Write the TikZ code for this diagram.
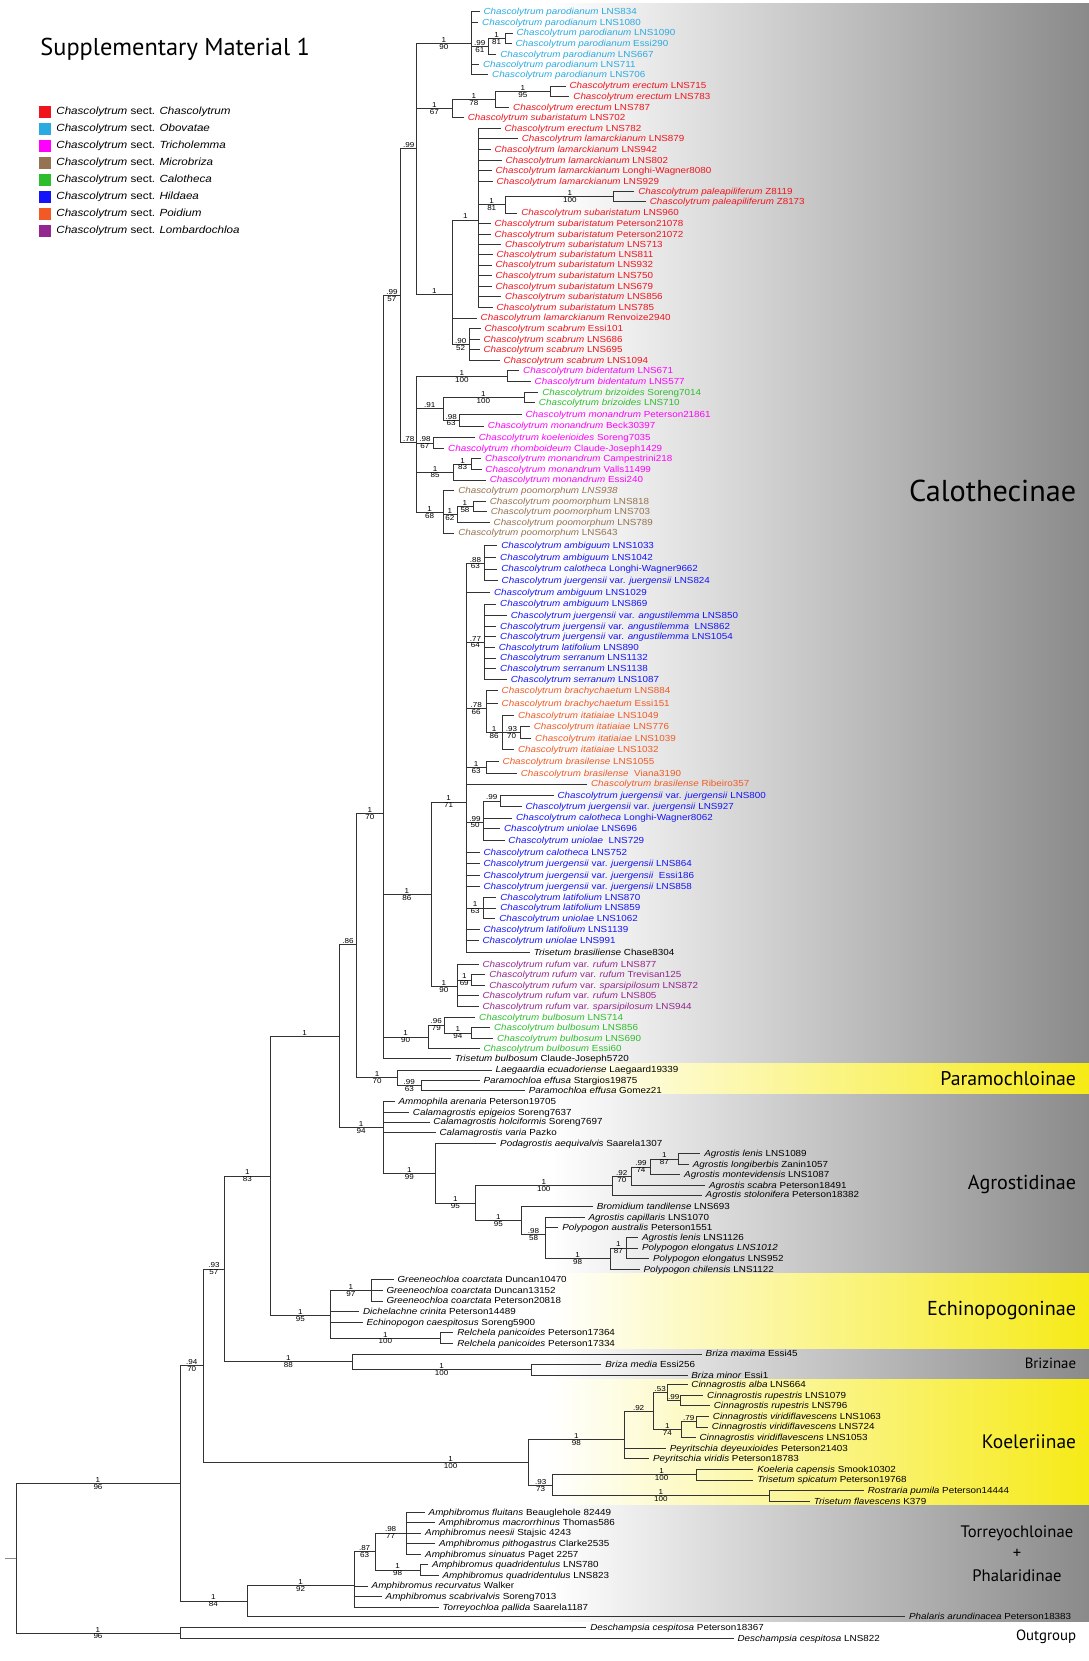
\documentclass[tikz,border=0pt]{standalone}
\usepackage{fontspec}
\setmainfont{Liberation Sans}
\newfontfamily\tipff[FakeStretch=1.12]{Liberation Sans}
\newfontfamily\bandff{PT Sans}
\definecolor{cCha}{RGB}{240,20,30}
\definecolor{cObo}{RGB}{41,171,226}
\definecolor{cTri}{RGB}{255,0,255}
\definecolor{cMic}{RGB}{150,115,80}
\definecolor{cCal}{RGB}{45,190,45}
\definecolor{cHil}{RGB}{20,20,250}
\definecolor{cPoi}{RGB}{241,90,36}
\definecolor{cLom}{RGB}{147,39,143}
\definecolor{bgray}{RGB}{138,138,138}
\definecolor{byel}{RGB}{246,234,22}
\newcommand\tipfont{\tipff\fontsize{8.3}{9}\selectfont}
\newcommand\supfont{\tipff\fontsize{6.8}{7.5}\selectfont}
\newcommand\ch[1]{\textit{Chascolytrum #1}}
\newcommand\tp[5]{\node[tip,text=#2] (#1) at (#3,#4) {#5};}
\begin{document}
\begin{tikzpicture}[x=1pt,y=-1pt,
  br/.style={draw=black!80,line width=0.55pt},
  tip/.style={anchor=west,inner xsep=3.5pt,inner ysep=0pt,xshift=-3.5pt,text height=6pt,text depth=0.2pt,font=\tipfont},
  sup/.style={font=\supfont,inner sep=0.6pt},
  ua/.style={pos=.75,above,sup},
  lb/.style={pos=.75,below,sup},
  leg/.style={anchor=west,inner sep=0pt,font=\tipff\fontsize{9.8}{11}\selectfont},
  sq/.style={minimum size=11.5pt,inner sep=0pt,draw=none}
]
\useasboundingbox (0,0) rectangle (1028,1568);
\fill[white] (0,0) rectangle (1028,1568);
% bands
\shade[left color=white,right color=bgray] (520,3.4) rectangle (1028,1004);
\shade[left color=white,right color=byel] (520,1004) rectangle (1028,1033.4);
\shade[left color=white,right color=bgray] (520,1033.4) rectangle (1028,1202);
\shade[left color=white,right color=byel] (520,1202) rectangle (1028,1274);
\shade[left color=white,right color=bgray] (520,1274) rectangle (1028,1302);
\shade[left color=white,right color=byel] (520,1302) rectangle (1028,1421);
\shade[left color=white,right color=bgray] (520,1421) rectangle (1028,1531);
% band labels
\node[anchor=east,inner sep=0pt,font=\bandff\fontsize{28.5}{30}\selectfont] (lCal) at (1016,463) {Calothecinae};
\node[anchor=east,inner sep=0pt,font=\bandff\fontsize{18.7}{20}\selectfont] (lPar) at (1016,1018) {Paramochloinae};
\node[anchor=east,inner sep=0pt,font=\bandff\fontsize{19}{20}\selectfont] (lAgr) at (1016,1118) {Agrostidinae};
\node[anchor=east,inner sep=0pt,font=\bandff\fontsize{19}{20}\selectfont] (lEch) at (1016,1237) {Echinopogoninae};
\node[anchor=east,inner sep=0pt,font=\bandff\fontsize{14}{15}\selectfont] (lBri) at (1016,1287) {Brizinae};
\node[anchor=east,inner sep=0pt,font=\bandff\fontsize{18.4}{20}\selectfont] (lKoe) at (1016,1361) {Koeleriinae};
\node[inner sep=0pt,font=\bandff\fontsize{15.7}{17}\selectfont] (lTor) at (960,1447) {Torreyochloinae};
\node[inner sep=0pt,font=\bandff\fontsize{15.7}{17}\selectfont] (lPlus) at (960,1467) {+};
\node[inner sep=0pt,font=\bandff\fontsize{15.7}{17}\selectfont] (lPha) at (960,1487) {Phalaridinae};
\node[anchor=east,inner sep=0pt,font=\bandff\fontsize{14}{15}\selectfont] (lOut) at (1016,1545) {Outgroup};
% title and legend
\node[anchor=west,inner sep=0pt,font=\bandff\fontsize{23}{26}\selectfont] (title) at (38,47) {Supplementary Material 1};
\node[sq,fill=cCha] (s1) at (42.5,106) {}; \node[leg] (g1) at (53,106) {\textit{Chascolytrum} sect. \textit{Chascolytrum}};
\node[sq,fill=cObo] (s2) at (42.5,122) {}; \node[leg] (g2) at (53,122) {\textit{Chascolytrum} sect. \textit{Obovatae}};
\node[sq,fill=cTri] (s3) at (42.5,138) {}; \node[leg] (g3) at (53,138) {\textit{Chascolytrum} sect. \textit{Tricholemma}};
\node[sq,fill=cMic] (s4) at (42.5,154) {}; \node[leg] (g4) at (53,154) {\textit{Chascolytrum} sect. \textit{Microbriza}};
\node[sq,fill=cCal] (s5) at (42.5,170) {}; \node[leg] (g5) at (53,170) {\textit{Chascolytrum} sect. \textit{Calotheca}};
\node[sq,fill=cHil] (s6) at (42.5,186) {}; \node[leg] (g6) at (53,186) {\textit{Chascolytrum} sect. \textit{Hildaea}};
\node[sq,fill=cPoi] (s7) at (42.5,202) {}; \node[leg] (g7) at (53,202) {\textit{Chascolytrum} sect. \textit{Poidium}};
\node[sq,fill=cLom] (s8) at (42.5,218) {}; \node[leg] (g8) at (53,218) {\textit{Chascolytrum} sect. \textit{Lombardochloa}};
% internal nodes
\coordinate (ROOT) at (15,1470.75);
\coordinate (stub) at (5,1470.75);
\coordinate (NIN) at (170,1400);
\coordinate (DC) at (170,1541.5);
\coordinate (N94) at (192,1289);
\coordinate (TP) at (233,1511.2);
\coordinate (N93) at (212,1197.75);
\coordinate (K) at (499.1,1380.35);
\coordinate (N83) at (255,1110);
\coordinate (BR) at (332.3,1285.5);
\coordinate (Q) at (320,978);
\coordinate (EC) at (312,1241.75);
\coordinate (N86) at (336.8,891.5);
\coordinate (AG) at (361.6,1064.6);
\coordinate (CC) at (361.6,768);
\coordinate (PM) at (375.1,1017.25);
\coordinate (C1) at (378.3,279);
\coordinate (H) at (406.7,844);
\coordinate (B) at (404.4,978.75);
\coordinate (N1) at (393.2,140.4);
\coordinate (T) at (393.2,417.6);
\coordinate (P) at (445,41.3);
\coordinate (n99a) at (460.8,43.5);
\coordinate (n1a) at (476.6,36);
\coordinate (E1) at (427,102.25);
\coordinate (E2) at (467.6,93.5);
\coordinate (E3) at (519.4,86);
\coordinate (S) at (427,277.5);
\coordinate (L) at (451.8,207.6);
\coordinate (N81) at (476.6,193.25);
\coordinate (Pal) at (579,185.5);
\coordinate (Sc) at (442.8,325);
\coordinate (Bd) at (478.9,355);
\coordinate (N91) at (418,385.75);
\coordinate (Bz) at (494.6,375);
\coordinate (N98a) at (433.8,396.5);
\coordinate (N98b) at (409,418);
\coordinate (N85) at (428.3,445.5);
\coordinate (N83a) at (445,438);
\coordinate (Po) at (418,483.8);
\coordinate (N62) at (431.5,485.5);
\coordinate (N58) at (446.4,478);
\coordinate (A71) at (440.5,757);
\coordinate (N88) at (457.2,531.5);
\coordinate (N77) at (457.2,606);
\coordinate (N78) at (458.6,669);
\coordinate (N86i) at (474.3,691.2);
\coordinate (N93i) at (491.5,691.5);
\coordinate (Bs) at (458.6,724.5);
\coordinate (J) at (456.3,776);
\coordinate (J1) at (472.1,756);
\coordinate (Lat) at (456.3,857);
\coordinate (R) at (431.5,931.25);
\coordinate (N69) at (445,925);
\coordinate (N96) at (419.3,967.5);
\coordinate (N94b) at (445,975);
\coordinate (N99p) at (397.7,1024.5);
\coordinate (A99) at (411.2,1107.5);
\coordinate (A95) at (448.6,1135.5);
\coordinate (A100) at (578,1119.1);
\coordinate (N92a) at (596,1110.25);
\coordinate (N99c) at (614.2,1101.5);
\coordinate (N87a) at (640.3,1094);
\coordinate (A95b) at (492.4,1152);
\coordinate (N98c) at (514.9,1165.3);
\coordinate (P98) at (575.8,1188);
\coordinate (N87b) at (591.6,1178);
\coordinate (G) at (350.3,1218);
\coordinate (Rel) at (415.7,1263);
\coordinate (BM) at (501.4,1293);
\coordinate (K98) at (589.3,1358.7);
\coordinate (N92k) at (616.4,1332);
\coordinate (N53) at (630,1314.5);
\coordinate (N99k) at (642.1,1322);
\coordinate (N74) at (643.5,1349.5);
\coordinate (N79) at (657,1342);
\coordinate (N93k) at (521.7,1402);
\coordinate (N100k) at (657,1392);
\coordinate (N100r) at (726,1412);
\coordinate (N92t) at (334.4,1496.4);
\coordinate (N87t) at (354,1464.5);
\coordinate (N98t) at (383.5,1447);
\coordinate (N1t) at (396.6,1482);
% tips
\tp{t1}{cObo}{456.3}{11}{\ch{parodianum} LNS834}
\tp{t2}{cObo}{455}{21}{\ch{parodianum} LNS1080}
\tp{t3}{cObo}{487.4}{31}{\ch{parodianum} LNS1090}
\tp{t4}{cObo}{486.5}{41}{\ch{parodianum} Essi290}
\tp{t5}{cObo}{472.1}{51}{\ch{parodianum} LNS667}
\tp{t6}{cObo}{455.8}{61}{\ch{parodianum} LNS711}
\tp{t7}{cObo}{464.4}{70}{\ch{parodianum} LNS706}
\tp{t8}{cCha}{537.5}{81}{\ch{erectum} LNS715}
\tp{t9}{cCha}{541.1}{91}{\ch{erectum} LNS783}
\tp{t10}{cCha}{484.3}{101}{\ch{erectum} LNS787}
\tp{t11}{cCha}{441.4}{111}{\ch{subaristatum} LNS702}
\tp{t12}{cCha}{476.1}{121}{\ch{erectum} LNS782}
\tp{t13}{cCha}{492.4}{131}{\ch{lamarckianum} LNS879}
\tp{t14}{cCha}{466.7}{141}{\ch{lamarckianum} LNS942}
\tp{t15}{cCha}{477}{151}{\ch{lamarckianum} LNS802}
\tp{t16}{cCha}{467.6}{161}{\ch{lamarckianum} Longhi-Wagner8080}
\tp{t17}{cCha}{468.5}{171}{\ch{lamarckianum} LNS929}
\tp{t18}{cCha}{602.4}{181}{\ch{paleapiliferum} Z8119}
\tp{t19}{cCha}{613.2}{190}{\ch{paleapiliferum} Z8173}
\tp{t20}{cCha}{491.9}{201}{\ch{subaristatum} LNS960}
\tp{t21}{cCha}{466.7}{211}{\ch{subaristatum} Peterson21078}
\tp{t22}{cCha}{466.7}{221}{\ch{subaristatum} Peterson21072}
\tp{t23}{cCha}{476.6}{231}{\ch{subaristatum} LNS713}
\tp{t24}{cCha}{468.5}{240}{\ch{subaristatum} LNS811}
\tp{t25}{cCha}{467.6}{250}{\ch{subaristatum} LNS932}
\tp{t26}{cCha}{467.6}{260}{\ch{subaristatum} LNS750}
\tp{t27}{cCha}{467.6}{270}{\ch{subaristatum} LNS679}
\tp{t28}{cCha}{476.6}{280}{\ch{subaristatum} LNS856}
\tp{t29}{cCha}{468.5}{290}{\ch{subaristatum} LNS785}
\tp{t30}{cCha}{453.6}{300}{\ch{lamarckianum} Renvoize2940}
\tp{t31}{cCha}{457.2}{310}{\ch{scabrum} Essi101}
\tp{t32}{cCha}{456.3}{320}{\ch{scabrum} LNS686}
\tp{t33}{cCha}{456.3}{330}{\ch{scabrum} LNS695}
\tp{t34}{cCha}{475.2}{340}{\ch{scabrum} LNS1094}
\tp{t35}{cTri}{493.7}{350}{\ch{bidentatum} LNS671}
\tp{t36}{cTri}{504.6}{360}{\ch{bidentatum} LNS577}
\tp{t37}{cCal}{511.8}{370}{\ch{brizoides} Soreng7014}
\tp{t38}{cCal}{508.6}{380}{\ch{brizoides} LNS710}
\tp{t39}{cTri}{496}{391}{\ch{monandrum} Peterson21861}
\tp{t40}{cTri}{460.4}{402}{\ch{monandrum} Beck30397}
\tp{t41}{cTri}{451.8}{413}{\ch{koelerioides} Soreng7035}
\tp{t42}{cTri}{422.9}{423}{\ch{rhomboideum} Claude-Joseph1429}
\tp{t43}{cTri}{457.7}{433}{\ch{monandrum} Campestrini218}
\tp{t44}{cTri}{458.1}{443}{\ch{monandrum} Valls11499}
\tp{t45}{cTri}{462.2}{453}{\ch{monandrum} Essi240}
\tp{t46}{cMic}{432.4}{463}{\ch{poomorphum LNS938}}
\tp{t47}{cMic}{462.2}{473}{\ch{poomorphum} LNS818}
\tp{t48}{cMic}{463.1}{483}{\ch{poomorphum} LNS703}
\tp{t49}{cMic}{465.8}{493}{\ch{poomorphum} LNS789}
\tp{t50}{cMic}{432.4}{503}{\ch{poomorphum} LNS643}
\tp{t51}{cHil}{473}{515}{\ch{ambiguum} LNS1033}
\tp{t52}{cHil}{472}{526}{\ch{ambiguum} LNS1042}
\tp{t53}{cHil}{473}{537}{\ch{calotheca} Longhi-Wagner9662}
\tp{t54}{cHil}{473.4}{548}{\ch{juergensii} var. \textit{juergensii} LNS824}
\tp{t55}{cHil}{466.2}{559}{\ch{ambiguum} LNS1029}
\tp{t56}{cHil}{472}{570}{\ch{ambiguum} LNS869}
\tp{t57}{cHil}{482}{581}{\ch{juergensii} var. \textit{angustilemma} LNS850}
\tp{t58}{cHil}{472}{591}{\ch{juergensii} var. \textit{angustilemma}\ \ LNS862}
\tp{t59}{cHil}{472}{601}{\ch{juergensii} var. \textit{angustilemma} LNS1054}
\tp{t60}{cHil}{470.7}{611}{\ch{latifolium} LNS890}
\tp{t61}{cHil}{472}{621}{\ch{serranum} LNS1132}
\tp{t62}{cHil}{472}{631}{\ch{serranum} LNS1138}
\tp{t63}{cHil}{482}{641}{\ch{serranum} LNS1087}
\tp{t64}{cPoi}{473.4}{652}{\ch{brachychaetum} LNS884}
\tp{t65}{cPoi}{473.4}{664}{\ch{brachychaetum} Essi151}
\tp{t66}{cPoi}{488.8}{675}{\ch{itatiaiae} LNS1049}
\tp{t67}{cPoi}{503.7}{686}{\ch{itatiaiae} LNS776}
\tp{t68}{cPoi}{505}{697}{\ch{itatiaiae} LNS1039}
\tp{t69}{cPoi}{488.8}{707}{\ch{itatiaiae} LNS1032}
\tp{t70}{cPoi}{474.3}{719}{\ch{brasilense} LNS1055}
\tp{t71}{cPoi}{491.5}{730}{\ch{brasilense}\ \ Viana3190}
\tp{t72}{cPoi}{557.8}{740}{\ch{brasilense} Ribeiro357}
\tp{t73}{cHil}{526.2}{751}{\ch{juergensii} var. \textit{juergensii} LNS800}
\tp{t74}{cHil}{496}{761}{\ch{juergensii} var. \textit{juergensii} LNS927}
\tp{t75}{cHil}{487}{772}{\ch{calotheca} Longhi-Wagner8062}
\tp{t76}{cHil}{475.7}{782}{\ch{uniolae} LNS696}
\tp{t77}{cHil}{479.8}{793}{\ch{uniolae}\ \ LNS729}
\tp{t78}{cHil}{456.3}{805}{\ch{calotheca} LNS752}
\tp{t79}{cHil}{456.3}{815}{\ch{juergensii} var. \textit{juergensii} LNS864}
\tp{t80}{cHil}{456.3}{826}{\ch{juergensii} var. \textit{juergensii}\ \ Essi186}
\tp{t81}{cHil}{456.3}{837}{\ch{juergensii} var. \textit{juergensii} LNS858}
\tp{t82}{cHil}{472.1}{847}{\ch{latifolium} LNS870}
\tp{t83}{cHil}{472.1}{857}{\ch{latifolium} LNS859}
\tp{t84}{cHil}{471.2}{867}{\ch{uniolae} LNS1062}
\tp{t85}{cHil}{456.3}{877}{\ch{latifolium} LNS1139}
\tp{t86}{cHil}{455.4}{888}{\ch{uniolae} LNS991}
\tp{t87}{black}{503.7}{899}{\textit{Trisetum brasiliense} Chase8304}
\tp{t88}{cLom}{455.4}{910}{\ch{rufum} var. \textit{rufum} LNS877}
\tp{t89}{cLom}{461.7}{920}{\ch{rufum} var. \textit{rufum} Trevisan125}
\tp{t90}{cLom}{461.7}{930}{\ch{rufum} var. \textit{sparsipilosum} LNS872}
\tp{t91}{cLom}{455.4}{940}{\ch{rufum} var. \textit{rufum} LNS805}
\tp{t92}{cLom}{455.4}{950}{\ch{rufum} var. \textit{sparsipilosum} LNS944}
\tp{t93}{cCal}{452.2}{960}{\ch{bulbosum} LNS714}
\tp{t94}{cCal}{466.2}{970}{\ch{bulbosum} LNS856}
\tp{t95}{cCal}{469}{980}{\ch{bulbosum} LNS690}
\tp{t96}{cCal}{456.3}{990}{\ch{bulbosum} Essi60}
\tp{t97}{black}{429.2}{999}{\textit{Trisetum bulbosum} Claude-Joseph5720}
\tp{t98}{black}{467.6}{1010}{\textit{Laegaardia ecuadoriense} Laegaard19339}
\tp{t99}{black}{456.3}{1020}{\textit{Paramochloa effusa} Stargios19875}
\tp{t100}{black}{499.1}{1029}{\textit{Paramochloa effusa} Gomez21}
\tp{t101}{black}{376}{1040}{\textit{Ammophila arenaria} Peterson19705}
\tp{t102}{black}{389.6}{1050}{\textit{Calamagrostis epigeios} Soreng7637}
\tp{t103}{black}{409}{1059}{\textit{Calamagrostis holciformis} Soreng7697}
\tp{t104}{black}{414.8}{1069}{\textit{Calamagrostis varia} Pazko}
\tp{t105}{black}{472}{1079}{\textit{Podagrostis aequivalvis} Saarela1307}
\tp{t106}{black}{664.7}{1089}{\textit{Agrostis lenis} LNS1089}
\tp{t107}{black}{653.8}{1099}{\textit{Agrostis longiberbis} Zanin1057}
\tp{t108}{black}{645.7}{1109}{\textit{Agrostis montevidensis} LNS1087}
\tp{t109}{black}{669.2}{1119}{\textit{Agrostis scabra} Peterson18491}
\tp{t110}{black}{666}{1128}{\textit{Agrostis stolonifera} Peterson18382}
\tp{t111}{black}{563.2}{1139}{\textit{Bromidium tandilense} LNS693}
\tp{t112}{black}{555.5}{1149}{\textit{Agrostis capillaris} LNS1070}
\tp{t113}{black}{530.7}{1159}{\textit{Polypogon australis} Peterson1551}
\tp{t114}{black}{606}{1168}{\textit{Agrostis lenis} LNS1126}
\tp{t115}{black}{606}{1178}{\textit{Polypogon elongatus LNS1012}}
\tp{t116}{black}{616.4}{1188}{\textit{Polypogon elongatus} LNS952}
\tp{t117}{black}{607.4}{1198}{\textit{Polypogon chilensis} LNS1122}
\tp{t118}{black}{375.1}{1208}{\textit{Greeneochloa coarctata} Duncan10470}
\tp{t119}{black}{364.7}{1218}{\textit{Greeneochloa coarctata} Duncan13152}
\tp{t120}{black}{364.7}{1228}{\textit{Greeneochloa coarctata} Peterson20818}
\tp{t121}{black}{342.6}{1238}{\textit{Dichelachne crinita} Peterson14489}
\tp{t122}{black}{345.8}{1248}{\textit{Echinopogon caespitosus} Soreng5900}
\tp{t123}{black}{431.5}{1258}{\textit{Relchela panicoides} Peterson17364}
\tp{t124}{black}{431.5}{1268}{\textit{Relchela panicoides} Peterson17334}
\tp{t125}{black}{666}{1278}{\textit{Briza maxima} Essi45}
\tp{t126}{black}{571.3}{1288}{\textit{Briza media} Essi256}
\tp{t127}{black}{652.5}{1298}{\textit{Briza minor} Essi1}
\tp{t128}{black}{652.5}{1307}{\textit{Cinnagrostis alba} LNS664}
\tp{t129}{black}{667.4}{1317}{\textit{Cinnagrostis rupestris} LNS1079}
\tp{t130}{black}{673.7}{1327}{\textit{Cinnagrostis rupestris} LNS796}
\tp{t131}{black}{672.8}{1337}{\textit{Cinnagrostis viridiflavescens} LNS1063}
\tp{t132}{black}{671.9}{1347}{\textit{Cinnagrostis viridiflavescens} LNS724}
\tp{t133}{black}{660.2}{1357}{\textit{Cinnagrostis viridiflavescens} LNS1053}
\tp{t134}{black}{632.2}{1367}{\textit{Peyritschia deyeuxioides} Peterson21403}
\tp{t135}{black}{616.4}{1377}{\textit{Peyritschia viridis} Peterson18783}
\tp{t136}{black}{714.7}{1387}{\textit{Koeleria capensis} Smook10302}
\tp{t137}{black}{714.7}{1397}{\textit{Trisetum spicatum} Peterson19768}
\tp{t138}{black}{819}{1407}{\textit{Rostraria pumila} Peterson14444}
\tp{t139}{black}{768}{1417}{\textit{Trisetum flavescens} K379}
\tp{t140}{black}{404.5}{1428}{\textit{Amphibromus fluitans} Beauglehole 82449}
\tp{t141}{black}{414.3}{1437}{\textit{Amphibromus macrorrhinus} Thomas586}
\tp{t142}{black}{401.2}{1447}{\textit{Amphibromus neesii} Stajsic 4243}
\tp{t143}{black}{414.3}{1457}{\textit{Amphibromus pithogastrus} Clarke2535}
\tp{t144}{black}{401.2}{1467}{\textit{Amphibromus sinuatus} Paget 2257}
\tp{t145}{black}{407.8}{1477}{\textit{Amphibromus quadridentulus} LNS780}
\tp{t146}{black}{417.6}{1487}{\textit{Amphibromus quadridentulus} LNS823}
\tp{t147}{black}{350.7}{1497}{\textit{Amphibromus recurvatus} Walker}
\tp{t148}{black}{363.9}{1507}{\textit{Amphibromus scabrivalvis} Soreng7013}
\tp{t149}{black}{417.6}{1517}{\textit{Torreyochloa pallida} Saarela1187}
\tp{t150}{black}{858}{1526}{\textit{Phalaris arundinacea} Peterson18383}
\tp{t151}{black}{557}{1536}{\textit{Deschampsia cespitosa} Peterson18367}
\tp{t152}{black}{696}{1547}{\textit{Deschampsia cespitosa} LNS822}
% internal branches with support values
\draw[br,draw=black!45] (stub) -- (ROOT);
\draw[br] (ROOT) |- node[ua]{1} node[lb]{96} (NIN);
\draw[br] (ROOT) |- node[ua]{1} node[lb]{96} (DC);
\draw[br] (NIN) |- node[ua]{.94} node[lb]{70} (N94);
\draw[br] (NIN) |- node[ua]{1} node[lb]{84} (TP);
\draw[br] (N94) |- node[ua]{.93} node[lb]{57} (N93);
\draw[br] (N94) |- node[pos=.88,above,sup]{1} node[pos=.88,below,sup]{100} (K);
\draw[br] (N93) |- node[ua]{1} node[lb]{83} (N83);
\draw[br] (N93) |- node[ua]{1} node[lb]{88} (BR);
\draw[br] (N83) |- node[ua]{1} (Q);
\draw[br] (N83) |- node[ua]{1} node[lb]{95} (EC);
\draw[br] (Q) |- node[ua]{.86} (N86);
\draw[br] (Q) |- node[ua]{1} node[lb]{94} (AG);
\draw[br] (N86) |- node[ua]{1} node[lb]{70} (CC);
\draw[br] (N86) |- node[ua]{1} node[lb]{70} (PM);
\draw[br] (CC) |- node[ua]{.99} node[lb]{57} (C1);
\draw[br] (CC) |- node[ua]{1} node[lb]{86} (H);
\draw[br] (CC) |- node[ua]{1} node[lb]{90} (B);
\draw[br] (C1) |- node[ua]{.99} (N1);
\draw[br] (C1) |- node[ua]{.78} (T);
\draw[br] (N1) |- node[ua]{1} node[lb]{90} (P);
\draw[br] (N1) |- node[ua]{1} node[lb]{67} (E1);
\draw[br] (N1) |- node[ua]{1} (S);
\draw[br] (P) |- node[ua]{.99} node[lb]{61} (n99a);
\draw[br] (n99a) |- node[ua]{1} node[lb]{81} (n1a);
\draw[br] (E1) |- node[ua]{1} node[lb]{78} (E2);
\draw[br] (E2) |- node[ua]{1} node[lb]{95} (E3);
\draw[br] (S) |- node[ua]{1} (L);
\draw[br] (L) |- node[ua]{1} node[lb]{81} (N81);
\draw[br] (N81) |- node[pos=.8,above,sup]{1} node[pos=.8,below,sup]{100} (Pal);
\draw[br] (S) |- node[ua]{.90} node[lb]{52} (Sc);
\draw[br] (T) |- node[ua]{1} node[lb]{100} (Bd);
\draw[br] (T) |- node[ua]{.91} (N91);
\draw[br] (N91) |- node[ua]{1} node[lb]{100} (Bz);
\draw[br] (N91) |- node[ua]{.98} node[lb]{63} (N98a);
\draw[br] (T) |- node[ua]{.98} node[lb]{67} (N98b);
\draw[br] (T) |- node[ua]{1} node[lb]{85} (N85);
\draw[br] (N85) |- node[ua]{1} node[lb]{83} (N83a);
\draw[br] (T) |- node[ua]{1} node[lb]{68} (Po);
\draw[br] (Po) |- node[ua]{1} node[lb]{62} (N62);
\draw[br] (N62) |- node[ua]{1} node[lb]{58} (N58);
\draw[br] (H) |- node[ua]{1} node[lb]{71} (A71);
\draw[br] (H) |- node[ua]{1} node[lb]{90} (R);
\draw[br] (A71) |- node[ua]{.88} node[lb]{63} (N88);
\draw[br] (A71) |- node[ua]{.77} node[lb]{64} (N77);
\draw[br] (A71) |- node[ua]{.78} node[lb]{66} (N78);
\draw[br] (N78) |- node[ua]{1} node[lb]{86} (N86i);
\draw[br] (N86i) |- node[ua]{.93} node[lb]{70} (N93i);
\draw[br] (A71) |- node[ua]{1} node[lb]{63} (Bs);
\draw[br] (A71) |- node[ua]{.99} node[lb]{50} (J);
\draw[br] (J) |- node[ua]{.99} (J1);
\draw[br] (A71) |- node[ua]{1} node[lb]{63} (Lat);
\draw[br] (R) |- node[ua]{1} node[lb]{69} (N69);
\draw[br] (B) |- node[ua]{.96} node[lb]{79} (N96);
\draw[br] (N96) |- node[ua]{1} node[lb]{94} (N94b);
\draw[br] (PM) |- node[ua]{.99} node[lb]{63} (N99p);
\draw[br] (AG) |- node[ua]{1} node[lb]{99} (A99);
\draw[br] (A99) |- node[ua]{1} node[lb]{95} (A95);
\draw[br] (A95) |- node[ua]{1} node[lb]{100} (A100);
\draw[br] (A100) |- node[ua]{.92} node[lb]{70} (N92a);
\draw[br] (N92a) |- node[ua]{.99} node[lb]{74} (N99c);
\draw[br] (N99c) |- node[ua]{1} node[lb]{87} (N87a);
\draw[br] (A95) |- node[ua]{1} node[lb]{95} (A95b);
\draw[br] (A95b) |- node[ua]{.98} node[lb]{58} (N98c);
\draw[br] (N98c) |- node[ua]{1} node[lb]{98} (P98);
\draw[br] (P98) |- node[ua]{1} node[lb]{87} (N87b);
\draw[br] (EC) |- node[ua]{1} node[lb]{97} (G);
\draw[br] (EC) |- node[ua]{1} node[lb]{100} (Rel);
\draw[br] (BR) |- node[ua]{1} node[lb]{100} (BM);
\draw[br] (K) |- node[ua]{1} node[lb]{98} (K98);
\draw[br] (K98) |- node[ua]{.92} (N92k);
\draw[br] (N92k) |- node[ua]{.53} (N53);
\draw[br] (N53) |- node[ua]{.99} (N99k);
\draw[br] (N92k) |- node[ua]{1} node[lb]{74} (N74);
\draw[br] (N74) |- node[ua]{.79} (N79);
\draw[br] (K) |- node[ua]{.93} node[lb]{73} (N93k);
\draw[br] (N93k) |- node[pos=.88,above,sup]{1} node[pos=.88,below,sup]{100} (N100k);
\draw[br] (N93k) |- node[ua]{1} node[lb]{100} (N100r);
\draw[br] (TP) |- node[ua]{1} node[lb]{92} (N92t);
\draw[br] (N92t) |- node[ua]{.87} node[lb]{63} (N87t);
\draw[br] (N87t) |- node[ua]{.98} node[lb]{77} (N98t);
\draw[br] (N87t) |- node[ua]{1} node[lb]{98} (N1t);
% tip branches
\foreach \c in {t1,t2,t6,t7} \draw[br] (P) |- (\c.west);
\draw[br] (n99a) |- (t5.west);
\foreach \c in {t3,t4} \draw[br] (n1a) |- (\c.west);
\draw[br] (E1) |- (t11.west);
\draw[br] (E2) |- (t10.west);
\foreach \c in {t8,t9} \draw[br] (E3) |- (\c.west);
\foreach \c in {t12,t13,t14,t15,t16,t17,t21,t22,t23,t24,t25,t26,t27,t28,t29} \draw[br] (L) |- (\c.west);
\draw[br] (N81) |- (t20.west);
\foreach \c in {t18,t19} \draw[br] (Pal) |- (\c.west);
\draw[br] (S) |- (t30.west);
\foreach \c in {t31,t32,t33,t34} \draw[br] (Sc) |- (\c.west);
\foreach \c in {t35,t36} \draw[br] (Bd) |- (\c.west);
\foreach \c in {t37,t38} \draw[br] (Bz) |- (\c.west);
\foreach \c in {t39,t40} \draw[br] (N98a) |- (\c.west);
\foreach \c in {t41,t42} \draw[br] (N98b) |- (\c.west);
\foreach \c in {t43,t44} \draw[br] (N83a) |- (\c.west);
\draw[br] (N85) |- (t45.west);
\foreach \c in {t46,t50} \draw[br] (Po) |- (\c.west);
\draw[br] (N62) |- (t49.west);
\foreach \c in {t47,t48} \draw[br] (N58) |- (\c.west);
\foreach \c in {t51,t52,t53,t54} \draw[br] (N88) |- (\c.west);
\foreach \c in {t55,t72,t78,t79,t80,t81,t85,t86,t87} \draw[br] (A71) |- (\c.west);
\foreach \c in {t56,t57,t58,t59,t60,t61,t62,t63} \draw[br] (N77) |- (\c.west);
\foreach \c in {t64,t65} \draw[br] (N78) |- (\c.west);
\foreach \c in {t66,t69} \draw[br] (N86i) |- (\c.west);
\foreach \c in {t67,t68} \draw[br] (N93i) |- (\c.west);
\foreach \c in {t70,t71} \draw[br] (Bs) |- (\c.west);
\foreach \c in {t75,t76,t77} \draw[br] (J) |- (\c.west);
\foreach \c in {t73,t74} \draw[br] (J1) |- (\c.west);
\foreach \c in {t82,t83,t84} \draw[br] (Lat) |- (\c.west);
\foreach \c in {t88,t91,t92} \draw[br] (R) |- (\c.west);
\foreach \c in {t89,t90} \draw[br] (N69) |- (\c.west);
\draw[br] (N96) |- (t93.west);
\foreach \c in {t94,t95} \draw[br] (N94b) |- (\c.west);
\draw[br] (B) |- (t96.west);
\draw[br] (CC) |- (t97.west);
\draw[br] (PM) |- (t98.west);
\foreach \c in {t99,t100} \draw[br] (N99p) |- (\c.west);
\foreach \c in {t101,t102,t103,t104} \draw[br] (AG) |- (\c.west);
\draw[br] (A99) |- (t105.west);
\foreach \c in {t106,t107} \draw[br] (N87a) |- (\c.west);
\draw[br] (N99c) |- (t108.west);
\draw[br] (N92a) |- (t109.west);
\draw[br] (A100) |- (t110.west);
\draw[br] (A95b) |- (t111.west);
\foreach \c in {t112,t113} \draw[br] (N98c) |- (\c.west);
\foreach \c in {t114,t115,t116} \draw[br] (N87b) |- (\c.west);
\draw[br] (P98) |- (t117.west);
\foreach \c in {t118,t119,t120} \draw[br] (G) |- (\c.west);
\foreach \c in {t121,t122} \draw[br] (EC) |- (\c.west);
\foreach \c in {t123,t124} \draw[br] (Rel) |- (\c.west);
\draw[br] (BR) |- (t125.west);
\foreach \c in {t126,t127} \draw[br] (BM) |- (\c.west);
\draw[br] (N53) |- (t128.west);
\foreach \c in {t129,t130} \draw[br] (N99k) |- (\c.west);
\foreach \c in {t131,t132} \draw[br] (N79) |- (\c.west);
\draw[br] (N74) |- (t133.west);
\foreach \c in {t134,t135} \draw[br] (K98) |- (\c.west);
\foreach \c in {t136,t137} \draw[br] (N100k) |- (\c.west);
\foreach \c in {t138,t139} \draw[br] (N100r) |- (\c.west);
\foreach \c in {t140,t141,t142,t143,t144} \draw[br] (N98t) |- (\c.west);
\foreach \c in {t145,t146} \draw[br] (N1t) |- (\c.west);
\foreach \c in {t147,t148,t149} \draw[br] (N92t) |- (\c.west);
\draw[br] (TP) |- (t150.west);
\foreach \c in {t151,t152} \draw[br] (DC) |- (\c.west);
\end{tikzpicture}
\end{document}
